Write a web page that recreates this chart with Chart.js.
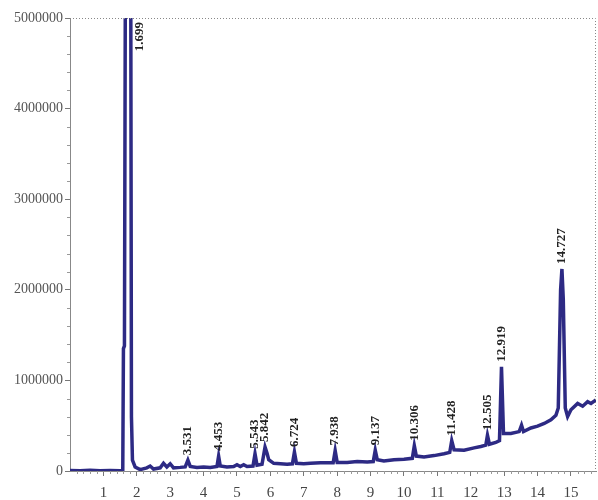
<!DOCTYPE html>
<html>
<head>
    <title>Chromatogram</title>
    <script src="https://cdn.jsdelivr.net/npm/chart.js"></script>
    <style>
        body { margin: 0; background: #fff; }
        #wrap { width: 598px; height: 500px; }
    </style>
</head>
<body>
    <div id="wrap"><canvas id="tic" width="598" height="500"></canvas></div>

    <script>
        // retention time (min) and detector signal
        const times = [
            0.00, 0.30, 0.60, 0.90, 1.20, 1.50, 1.58, 1.60, 1.63, 1.665, 1.74, 1.815, 1.84, 1.87, 1.95,
            2.10, 2.30, 2.40, 2.50, 2.70, 2.80, 2.90, 3.00, 3.10, 3.30, 3.45, 3.53, 3.60, 3.80,
            4.00, 4.20, 4.40, 4.45, 4.50, 4.70, 4.90, 5.00, 5.10, 5.20, 5.30, 5.48, 5.54, 5.60,
            5.75, 5.84, 5.90, 5.95, 6.10, 6.30, 6.50, 6.66, 6.72, 6.78, 7.00, 7.20, 7.50, 7.88,
            7.94, 8.00, 8.30, 8.60, 8.90, 9.08, 9.14, 9.20, 9.40, 9.70, 10.00, 10.25, 10.31, 10.37,
            10.60, 10.90, 11.20, 11.37, 11.43, 11.50, 11.80, 12.10, 12.30, 12.45, 12.50, 12.56,
            12.75, 12.86, 12.92, 12.98, 13.20, 13.45, 13.52, 13.58, 13.80, 14.00, 14.20, 14.40,
            14.55, 14.62, 14.69, 14.73, 14.77, 14.83, 14.90, 15.00, 15.20, 15.35, 15.50, 15.60, 15.75
        ];
        const signal = [
            5000, 3000, 7000, 2000, 6000, 4000, 8000, 1350000, 1380000, 6500000, 9000000, 6500000, 600000, 120000, 45000,
            15000, 35000, 55000, 22000, 35000, 85000, 45000, 80000, 35000, 40000, 45000, 120000, 50000, 40000,
            45000, 40000, 50000, 165000, 55000, 45000, 50000, 70000, 50000, 70000, 50000, 55000, 190000, 65000,
            75000, 265000, 195000, 125000, 85000, 80000, 75000, 80000, 210000, 85000, 80000, 85000, 90000, 90000,
            225000, 95000, 95000, 105000, 100000, 105000, 230000, 125000, 110000, 125000, 130000, 140000, 280000, 165000,
            155000, 170000, 190000, 205000, 335000, 235000, 230000, 255000, 270000, 285000, 395000, 295000,
            315000, 335000, 1150000, 415000, 415000, 435000, 505000, 435000, 475000, 495000, 525000, 565000,
            615000, 695000, 2000000, 2230000, 1900000, 695000, 600000, 675000, 745000, 715000, 765000, 745000, 785000
        ];

        const peakTimes = [1.699, 3.531, 4.453, 5.543, 5.842, 6.724, 7.938, 9.137, 10.306, 11.428, 12.505, 12.919, 14.727];
        const peakLabels = ['1.699', '3.531', '4.453', '5.543', '5.842', '6.724', '7.938', '9.137', '10.306', '11.428', '12.505', '12.919', '14.727'];

        const xTicks = [1, 2, 3, 4, 5, 6, 7, 8, 9, 10, 11, 12, 13, 14, 15];
        const yTicks = [0, 1000000, 2000000, 3000000, 4000000, 5000000];

        const points = times.map((t, i) => ({ x: t, y: signal[i] }));

        // dotted frame on top/right plus the small minor ticks
        const framePlugin = {
            id: 'frame',
            afterDraw(chart) {
                const { ctx, chartArea: a, scales } = chart;
                ctx.save();
                ctx.strokeStyle = '#888';
                ctx.lineWidth = 1;
                ctx.setLineDash([1, 2]);
                ctx.beginPath();
                ctx.moveTo(a.left, a.top + 0.5);
                ctx.lineTo(a.right - 0.5, a.top + 0.5);
                ctx.lineTo(a.right - 0.5, a.bottom);
                ctx.stroke();
                ctx.setLineDash([]);
                ctx.strokeStyle = '#999';
                ctx.beginPath();
                for (let v = 200000; v < 5000000; v += 200000) {
                    if (v % 1000000 === 0) continue;
                    const y = Math.round(scales.y.getPixelForValue(v)) + 0.5;
                    ctx.moveTo(a.left - 3, y);
                    ctx.lineTo(a.left, y);
                }
                for (let v = 0.2; v < 15.75; v += 0.2) {
                    if (Math.abs(v - Math.round(v)) < 0.01) continue;
                    const x = Math.round(scales.x.getPixelForValue(v)) + 0.5;
                    ctx.moveTo(x, a.bottom);
                    ctx.lineTo(x, a.bottom + 3);
                }
                ctx.stroke();
                ctx.restore();
            }
        };

        // retention time labels above each peak
        const peakLabelPlugin = {
            id: 'peakLabels',
            afterDatasetsDraw(chart) {
                const { ctx, chartArea: a, scales } = chart;
                ctx.save();
                ctx.font = 'bold 13px "Liberation Serif", "DejaVu Serif", serif';
                ctx.fillStyle = '#222';
                ctx.textBaseline = 'middle';
                peakTimes.forEach((pt, i) => {
                    let top = 0;
                    times.forEach((t, j) => {
                        if (Math.abs(t - pt) < 0.05 && signal[j] > top) top = signal[j];
                    });
                    let x = scales.x.getPixelForValue(pt);
                    let y = scales.y.getPixelForValue(top) - 5;
                    const w = ctx.measureText(peakLabels[i]).width;
                    if (y - w < a.top) {
                        // main peak runs off the top: label sits beside it
                        x += 13;
                        y = a.top + 4 + w;
                    }
                    ctx.save();
                    ctx.translate(x, y);
                    ctx.rotate(-Math.PI / 2);
                    ctx.textAlign = 'left';
                    ctx.fillText(peakLabels[i], 0, 0);
                    ctx.restore();
                });
                ctx.restore();
            }
        };

        const serif = '"Liberation Serif", "DejaVu Serif", serif';

        new Chart(document.getElementById('tic'), {
            type: 'line',
            data: {
                datasets: [{
                    data: points,
                    borderColor: '#2d2a84',
                    borderWidth: 3.5,
                    pointRadius: 0,
                    tension: 0,
                    fill: false
                }]
            },
            options: {
                responsive: false,
                animation: false,
                layout: { padding: { top: 18, right: 2, left: 0, bottom: 0 } },
                plugins: {
                    legend: { display: false },
                    tooltip: { enabled: false }
                },
                scales: {
                    x: {
                        type: 'linear',
                        min: 0,
                        max: 15.75,
                        afterBuildTicks: s => { s.ticks = xTicks.map(v => ({ value: v })); },
                        afterFit: s => { s.height = 29; },
                        grid: { drawOnChartArea: false, drawTicks: true, tickLength: 5, color: '#777' },
                        border: { display: true, color: '#888', dash: [1, 2] },
                        ticks: {
                            padding: 8,
                            maxRotation: 0,
                            autoSkip: false,
                            color: '#444',
                            font: { family: serif, size: 15 },
                            callback: v => String(v)
                        }
                    },
                    y: {
                        min: 0,
                        max: 5000000,
                        afterBuildTicks: s => { s.ticks = yTicks.map(v => ({ value: v })); },
                        afterFit: s => { s.width = 70; },
                        grid: { drawOnChartArea: false, drawTicks: true, tickLength: 5, color: '#777' },
                        border: { display: true, color: '#888', dash: [1, 2] },
                        ticks: {
                            padding: 2,
                            color: '#555',
                            font: { family: serif, size: 14 },
                            callback: v => String(v)
                        }
                    }
                }
            },
            plugins: [framePlugin, peakLabelPlugin]
        });
    </script>
</body>
</html>
